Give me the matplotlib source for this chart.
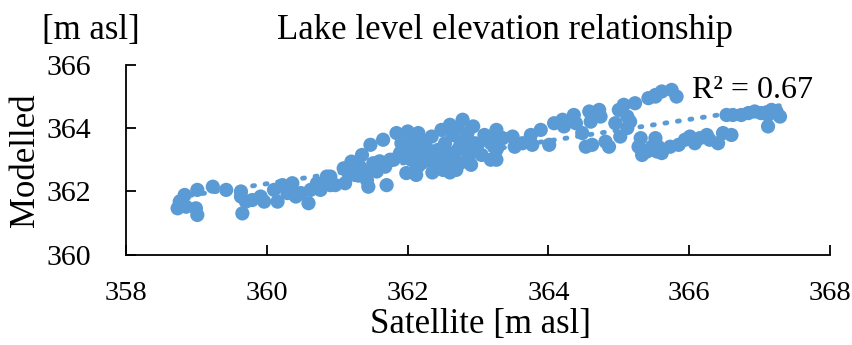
import matplotlib.pyplot as plt
import numpy as np

# satellite vs modelled lake level [m asl]
satellite = [
    358.76, 358.83, 358.73, 358.85, 358.99, 359.01, 359.01, 359.23, 359.42, 359.63,
    359.63, 359.65, 359.70, 359.79, 359.91, 359.96, 360.10, 360.15, 360.22, 360.29,
    360.36, 360.41, 360.48, 360.59, 360.62, 360.71, 360.76, 360.85, 360.90,
    360.90, 360.97, 361.09, 361.11, 361.20, 361.25, 361.32, 361.35, 361.42, 361.44,
    361.47, 361.51, 361.56, 361.65, 361.68, 361.70, 361.75, 361.84, 361.89, 361.91,
    361.98, 362.00, 362.03, 362.08, 362.10, 362.12, 362.15, 362.17, 362.24, 362.29,
    362.34, 362.38, 362.43, 362.48, 362.50, 362.53, 362.57, 362.60, 362.64, 362.69,
    362.71, 362.74, 362.78, 362.81, 362.86, 362.90, 362.93, 362.95, 363.09, 363.18,
    363.18, 363.23, 363.26,
    361.80, 361.95, 362.05, 362.20, 362.30, 362.40, 362.55, 362.65, 362.75, 362.45,
    362.60, 362.20, 362.00, 361.60, 361.40, 361.30, 361.15, 362.85, 362.70, 362.90,
    363.00, 363.05, 362.35, 362.15,
    363.26, 363.28, 363.35, 363.26, 363.49, 363.52, 363.63, 363.75, 363.77, 363.89,
    364.01, 364.08, 364.20, 364.22, 364.36, 364.39, 364.48, 364.53, 364.58, 364.60,
    364.62, 364.72, 364.74, 364.81, 364.86, 364.95, 365.00, 365.02, 365.07, 365.12,
    365.12, 365.16, 365.23, 365.28, 365.31, 365.33, 365.40, 365.42, 365.47, 365.52,
    365.52, 365.61, 365.75, 365.82, 365.52, 365.56, 365.54, 365.61, 365.73, 365.85,
    365.94, 366.01, 366.08, 366.15, 366.25, 366.29, 366.41, 366.48, 366.60, 366.53,
    366.62, 366.74, 366.84, 366.93, 367.02, 367.12, 367.17, 367.24, 367.29, 367.12,
]
modelled = [
    361.68, 361.89, 361.47, 361.52, 361.47, 361.26, 362.05, 362.15, 362.05, 362.00,
    361.84, 361.31, 361.68, 361.73, 361.84, 361.68, 362.05, 361.68, 362.20, 361.95,
    362.26, 361.84, 361.95, 361.63, 362.05, 362.26, 362.05, 362.47, 362.20,
    362.47, 362.20, 362.73, 362.26, 362.94, 362.52, 362.78, 363.15, 362.36, 362.15,
    363.47, 362.89, 362.63, 363.63, 362.78, 362.20, 363.00, 363.84, 363.21, 363.52,
    362.58, 363.89, 363.31, 363.57, 362.63, 362.52, 363.84, 363.21, 363.52, 363.00,
    363.73, 362.84, 363.31, 363.94, 362.68, 363.52, 363.00, 364.10, 363.78, 362.68,
    363.31, 362.89, 364.26, 363.63, 363.05, 362.84, 364.05, 363.52, 363.78, 363.00,
    363.52, 363.73, 363.31,
    363.00, 363.10, 363.00, 362.90, 363.30, 363.10, 363.25, 362.90, 363.50, 362.75,
    362.60, 363.60, 363.45, 362.95, 362.60, 362.50, 362.60, 363.85, 364.00, 363.30,
    363.50, 363.15, 362.60, 362.80,
    363.94, 363.41, 363.68, 363.00, 363.73, 363.41, 363.52, 363.78, 363.47, 363.94,
    363.47, 364.15, 364.26, 364.05, 364.41, 364.15, 363.84, 363.41, 364.52, 364.20,
    363.47, 364.57, 364.36, 363.57, 363.41, 364.15, 364.57, 363.73, 364.73, 364.00,
    364.36, 364.20, 364.78, 363.41, 363.68, 363.15, 363.26, 364.94, 363.41, 365.04,
    364.99, 365.15, 365.20, 364.99, 363.68, 363.41, 363.26, 363.21, 363.41, 363.47,
    363.63, 363.73, 363.52, 363.68, 363.78, 363.63, 363.52, 363.84, 363.78, 364.41,
    364.41, 364.41, 364.47, 364.52, 364.47, 364.41, 364.57, 364.52, 364.36, 364.05,
]
r2_label = "R\u00b2 = 0.67"

blue = "#5B9BD5"
plt.rcParams["font.family"] = ["Liberation Serif", "DejaVu Serif"]

fig = plt.figure(figsize=(8.53, 3.45), dpi=100)
ax = fig.add_axes([0.148, 0.261, 0.825, 0.552])

x = np.array(satellite)
y = np.array(modelled)
ax.scatter(x, y, s=105, color=blue, edgecolors="none", zorder=3)

# linear trendline, dotted like the Excel one
k, b = np.polyfit(x, y, 1)
xt = np.array([x.min(), x.max()])
ax.plot(xt, k * xt + b, color=blue, lw=3.5, ls=(0, (0.4, 2.2)),
        dash_capstyle="round", zorder=2)

ax.text(366.04, 365.17, r2_label, fontsize=23, va="center", ha="left")

ax.set_xlim(358, 368)
ax.set_ylim(360, 366)
ax.set_xticks(np.arange(358, 369, 2))
ax.set_yticks(np.arange(360, 367, 2))
ax.tick_params(direction="in", length=7, width=1.3, labelsize=21.5)
ax.tick_params(axis="x", pad=19, labelsize=20.5)
ax.tick_params(axis="y", pad=25)
for side in ("top", "right"):
    ax.spines[side].set_visible(False)
for side in ("left", "bottom"):
    ax.spines[side].set_linewidth(1.3)

fig.text(0.592, 0.913, "Lake level elevation relationship", fontsize=25,
         ha="center", va="center")
fig.text(0.106, 0.913, "[m asl]", fontsize=25, ha="center", va="center")
fig.text(0.030, 0.535, "Modelled", fontsize=25, rotation=90,
         ha="center", va="center")
fig.text(0.563, 0.058, "Satellite [m asl]", fontsize=25,
         ha="center", va="center")

fig.savefig("out.png", dpi=100)
